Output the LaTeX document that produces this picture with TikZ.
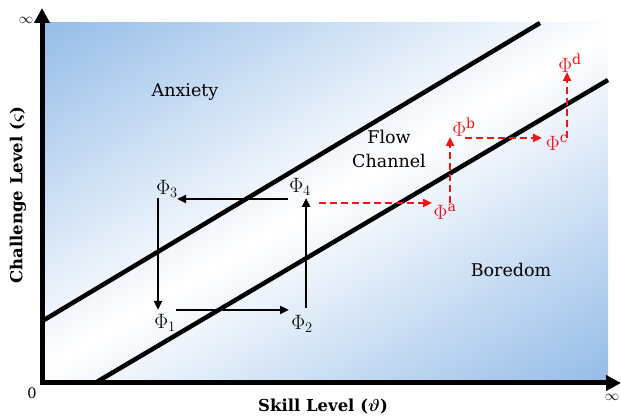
\documentclass[tikz,border=0pt]{standalone}
\usepackage{fontspec}
\setmainfont{DejaVu Serif}
\usetikzlibrary{arrows.meta}
\definecolor{blueC}{RGB}{148,188,232}
\definecolor{redC}{RGB}{240,20,20}
\begin{document}
\begin{tikzpicture}[x=1pt,y=1pt,
  axisline/.style={line width=5pt, {Triangle[width=15pt,length=15pt]}-{Triangle[width=15pt,length=15pt]}},
  bound/.style={line width=4.5pt},
  cyc/.style={line width=2.4pt,-{Triangle[width=8pt,length=9pt]}},
  redarr/.style={redC, line width=2.4pt, dash pattern=on 7pt off 4pt, -{Triangle[width=8pt,length=9pt]}},
  lbl/.style={font=\fontsize{17.5}{24}\selectfont, align=center},
  phi/.style={font=\fontsize{20}{22}\selectfont, inner sep=0pt},
  rphi/.style={phi, text=redC},
  tick/.style={font=\fontsize{14.5}{17}\selectfont, inner sep=0pt},
  axtitle/.style={font=\fontsize{16.5}{18}\selectfont\bfseries\boldmath},
  ]
\useasboundingbox (0,0) rectangle (621,417);
% background
\begin{scope}
\clip (44,36) rectangle (608,394);
\begin{scope}[transform canvas={rotate around={31:(328,218)}}]
\shade[top color=blueC, bottom color=blueC, middle color=white] (-72,-82) rectangle (728,518);
\end{scope}
\end{scope}
% channel boundaries
\draw[bound] (44,97) -- (540,394);
\draw[bound] (95,34) -- (608,337);
% axes
\draw[axisline] (42,409) -- (42,34) -- (621,34);
\node[tick] (inftop) at (26,397) {$\infty$};
\node[tick] (zero) at (32,24) {0};
\node[tick] (infright) at (612,20) {$\infty$};
\node[axtitle] (xt) at (323,10) {Skill Level ($\vartheta$)};
\node[axtitle, rotate=90] (yt) at (18,222) {Challenge Level ($\varsigma$)};
% region labels
\node[lbl] (anx) at (185,325) {Anxiety};
\node[lbl] (flow) at (389,268) {Flow\\Channel};
\node[lbl] (bor) at (511,147) {Boredom};
% cycle
\node[phi] (p3) at (167,228) {$\Phi_3$};
\node[phi] (p4) at (300,230) {$\Phi_4$};
\node[phi] (p1) at (165,94) {$\Phi_1$};
\node[phi] (p2) at (302,93) {$\Phi_2$};
\coordinate (a43s) at (288,218); \coordinate (a43e) at (177,218);
\coordinate (a31s) at (158,219); \coordinate (a31e) at (158,107);
\coordinate (a12s) at (176,107); \coordinate (a12e) at (289,107);
\coordinate (a24s) at (306,109); \coordinate (a24e) at (306,219);
\draw[cyc] (a43s) -- (a43e);
\draw[cyc] (a31s) -- (a31e);
\draw[cyc] (a12s) -- (a12e);
\draw[cyc] (a24s) -- (a24e);
% red path
\node[rphi] (pa) at (445,205) {$\Phi^{\mathrm{a}}$};
\node[rphi] (pb) at (464,290) {$\Phi^{\mathrm{b}}$};
\node[rphi] (pc) at (557,274) {$\Phi^{\mathrm{c}}$};
\node[rphi] (pd) at (570,354) {$\Phi^{\mathrm{d}}$};
\coordinate (r1s) at (319,214); \coordinate (r1e) at (432,214);
\coordinate (r2s) at (450,214); \coordinate (r2e) at (450,280);
\coordinate (r3s) at (465,279); \coordinate (r3e) at (542,279);
\coordinate (r4s) at (567,279); \coordinate (r4e) at (567,345);
\draw[redarr] (r1s) -- (r1e);
\draw[redarr] (r2s) -- (r2e);
\draw[redarr] (r3s) -- (r3e);
\draw[redarr] (r4s) -- (r4e);
\end{tikzpicture}
\end{document}
